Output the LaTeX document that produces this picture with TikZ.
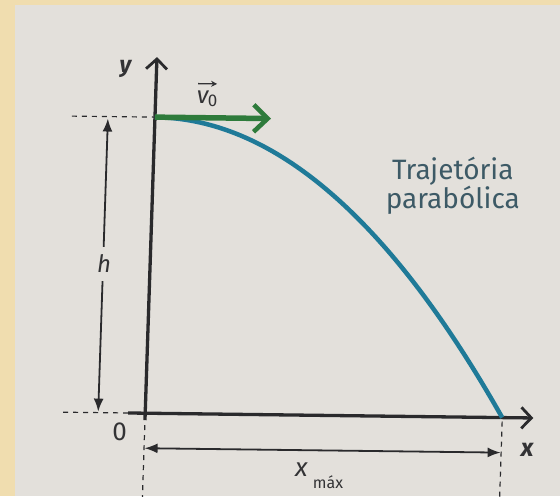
\documentclass[tikz,border=0pt]{standalone}
\usepackage{fontspec}
\setmainfont{Fira Sans}
\usetikzlibrary{arrows.meta}
\definecolor{bordercol}{HTML}{F0DDAF}
\definecolor{paper}{HTML}{E3E0DB}
\definecolor{axiscol}{HTML}{2A2A2C}
\definecolor{vgreen}{HTML}{2E7B3B}
\definecolor{curveblue}{HTML}{1F7A98}
\definecolor{labelcol}{HTML}{3D5A66}
\definecolor{textcol}{HTML}{333335}
\tikzset{
  axis/.style={draw=axiscol, line width=3.3pt, -{Straight Barb[length=10pt,width=21pt,line width=2.8pt]}},
  dimline/.style={draw=axiscol, line width=1.8pt, {Latex[length=13pt,width=10pt]}-{Latex[length=13pt,width=10pt]}},
  guide/.style={draw=axiscol, line width=1.2pt, dash pattern=on 5pt off 5pt},
  lbl/.style={inner sep=0pt, text=textcol},
}
\begin{document}
\begin{tikzpicture}[x=1pt,y=1pt]
\fill[bordercol] (0,0) rectangle (560,496);
\fill[paper] (15,0) rectangle (560,491);
\useasboundingbox (0,0) rectangle (560,496);

\begin{scope}[cm={1,-0.0123,0.033,1,(145.2pt,82.8pt)}]
% key points (u right, w up, origin at the axes' crossing)
\coordinate (ybot) at (0,-7);
\coordinate (ytop) at (0,356);
\coordinate (xleft) at (-17,0);
\coordinate (xright) at (388,0);
\coordinate (T) at (0,296);
\coordinate (L) at (357,0);
\coordinate (vtip) at (116,296);

% guides
\coordinate (g1a) at (-83,296);
\coordinate (g2a) at (-82,0);
\coordinate (g2b) at (-17,0);
\draw[guide] (g1a) -- (T);
\draw[guide] (g2a) -- (g2b);
\coordinate (d1a) at (0,-12);
\coordinate (d1b) at (0,-86);
\coordinate (d2a) at (357,-4);
\coordinate (d2b) at (357,-86);
\draw[guide] (d1a) -- (d1b);
\draw[guide] (d2a) -- (d2b);

% axes
\draw[axis] (ybot) -- (ytop);
\draw[axis] (xleft) -- (xright);

% trajectory
\draw[curveblue, line width=4.5pt] plot[domain=0:357, samples=80, smooth] (\x, {296*(1-(\x/357)^2)});

% initial velocity
\draw[vgreen, line width=5.5pt, -{Straight Barb[length=14pt,width=27pt,line width=4.6pt]}] (T) -- (vtip);

% h dimension
\coordinate (ha) at (-47,294);
\coordinate (hb) at (-47,1);
\draw[dimline] (ha) -- (hb);
\node[lbl, fill=paper, inner ysep=8pt, inner xsep=3pt, font=\fontsize{24}{26}\selectfont\itshape] (h) at (-46,149) {h};

% xmax dimension
\coordinate (xa) at (0.5,-35);
\coordinate (xb) at (356.5,-35);
\draw[dimline] (xa) -- (xb);

% labels
\node[lbl, font=\fontsize{23}{25}\selectfont\bfseries\itshape] (ylab) at (-31,344) {y};
\node[lbl, font=\fontsize{25}{27}\selectfont\bfseries\itshape] (xlab) at (383,-32) {x};
\node[lbl, font=\fontsize{26}{28}\selectfont] (zero) at (-25,-19) {0};
\node[lbl, font=\fontsize{26}{28}\selectfont\itshape] (X) at (158,-55) {x};
\node[lbl, font=\fontsize{16}{18}\selectfont] (mx) at (185,-67) {máx};
\node[lbl, font=\fontsize{24}{26}\selectfont\itshape] (v) at (47,317) {v};
\node[lbl, font=\fontsize{17}{19}\selectfont] (v0) at (57,313) {0};
\coordinate (va) at (42,330);
\coordinate (vb) at (61,330);
\draw[textcol, line width=1.3pt, -{Stealth[length=6pt,width=6pt]}] (va) -- (vb);
\node[lbl, text=labelcol, align=center, font=\fontsize{28}{27}\selectfont] (traj) at (300,231) {Trajetória\\parabólica};
\end{scope}
\end{tikzpicture}
\end{document}
